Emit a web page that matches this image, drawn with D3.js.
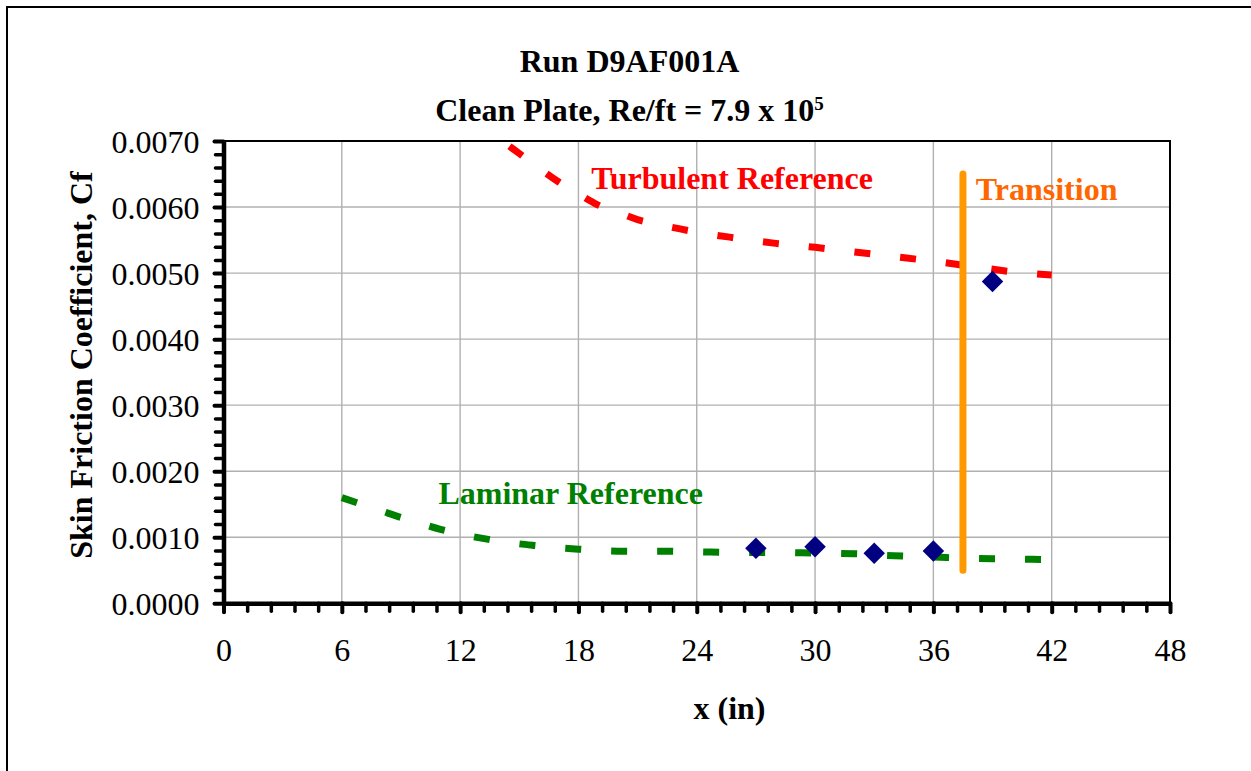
<!DOCTYPE html>
<html lang="en">
<head>
  <meta charset="UTF-8">
  <title>Run D9AF001A - Skin Friction</title>
  <script src="https://d3js.org/d3.v7.min.js"></script>
  <style>
    body { margin: 0; background: #fff; }
    text { font-family: "Liberation Serif", "Times New Roman", serif; }
    .tick text { font-size: 32px; fill: #000; }
    .title, .axis-title, .note { font-size: 32px; font-weight: bold; }
  </style>
</head>
<body>
  <svg id="chart" width="1251" height="771"></svg>

  <script>
    // Laminar reference curve (x in inches, Cf)
    const lamX = [6, 7, 8, 9, 10, 11, 12, 13, 14, 15, 16, 17, 18, 20, 22, 24, 26, 28, 30, 32, 34, 36, 38, 40, 42];
    const lamCf = [0.00160, 0.00150, 0.00140, 0.00130, 0.00121, 0.00112, 0.00105, 0.00099, 0.00094, 0.00090, 0.00087, 0.00084, 0.00082,
                   0.00079, 0.00079, 0.00078, 0.00077, 0.00077, 0.00076, 0.00075, 0.00072, 0.00070, 0.00068, 0.00067, 0.00066];

    // Turbulent reference curve
    const turbX = [14.5, 15, 16, 17, 18, 19, 20, 21, 22, 24, 26, 28, 30, 32, 34, 36, 38, 40, 42];
    const turbCf = [0.00692, 0.00681, 0.00659, 0.00638, 0.00620, 0.00603, 0.00592, 0.00581, 0.00574, 0.00562, 0.00553,
                    0.00545, 0.00539, 0.00532, 0.00525, 0.00518, 0.00510, 0.00502, 0.00497];

    // Measured data
    const runX = [27, 30, 33, 36, 39];
    const runCf = [0.000832, 0.000857, 0.000756, 0.000791, 0.004873];

    // Transition marker
    const transX = [37.5, 37.5];
    const transCf = [0.0005, 0.0065];

    const xTicks = [0, 6, 12, 18, 24, 30, 36, 42, 48];
    const yTicks = [0, 0.001, 0.002, 0.003, 0.004, 0.005, 0.006, 0.007];

    const margin = { top: 141, right: 81, bottom: 167.7, left: 223.5 };
    const width = 1251 - margin.left - margin.right;
    const height = 771 - margin.top - margin.bottom;

    const root = d3.select("#chart");

    // outer chart border (runs off the right and bottom edges)
    root.append("rect")
      .attr("x", 7).attr("y", 7)
      .attr("width", 1300).attr("height", 900)
      .attr("fill", "none").attr("stroke", "#000").attr("stroke-width", 2);

    const svg = root.append("g")
      .attr("transform", "translate(" + margin.left + "," + margin.top + ")");

    const xScale = d3.scaleLinear().domain([0, 48]).range([0, width]);
    const yScale = d3.scaleLinear().domain([0, 0.007]).range([height, 0]);

    svg.append("clipPath").attr("id", "plot-clip")
      .append("rect").attr("width", width).attr("height", height);

    // gridlines
    svg.append("g").selectAll("line")
      .data(xTicks.slice(1, -1))
      .enter().append("line")
      .attr("x1", d => xScale(d)).attr("x2", d => xScale(d))
      .attr("y1", 0).attr("y2", height)
      .attr("stroke", "#b0b0b0").attr("stroke-width", 1.4);

    svg.append("g").selectAll("line")
      .data(yTicks.slice(1, -1))
      .enter().append("line")
      .attr("y1", d => yScale(d)).attr("y2", d => yScale(d))
      .attr("x1", 0).attr("x2", width)
      .attr("stroke", "#b0b0b0").attr("stroke-width", 1.4);

    // top and right frame
    svg.append("path")
      .attr("d", "M0,0H" + width + "V" + height)
      .attr("fill", "none").attr("stroke", "#000").attr("stroke-width", 2);

    const line = d3.line()
      .x(d => xScale(d[0]))
      .y(d => yScale(d[1]))
      .curve(d3.curveMonotoneX);

    const plot = svg.append("g").attr("clip-path", "url(#plot-clip)");

    plot.append("path")
      .datum(d3.zip(lamX, lamCf))
      .attr("d", line)
      .attr("fill", "none")
      .attr("stroke", "#008000")
      .attr("stroke-width", 7)
      .attr("stroke-dasharray", "16,30");

    plot.append("path")
      .datum(d3.zip(turbX, turbCf))
      .attr("d", line)
      .attr("fill", "none")
      .attr("stroke", "#ff0000")
      .attr("stroke-width", 7)
      .attr("stroke-dasharray", "16,30");

    svg.append("path")
      .datum(d3.zip(transX, transCf))
      .attr("d", d3.line().x(d => xScale(d[0])).y(d => yScale(d[1])))
      .attr("stroke", "#ff9900")
      .attr("stroke-width", 7)
      .attr("stroke-linecap", "round");

    // data points as diamonds
    svg.selectAll(".pt")
      .data(d3.zip(runX, runCf))
      .enter().append("path")
      .attr("class", "pt")
      .attr("d", d3.symbol(d3.symbolSquare, 231))
      .attr("transform", d => "translate(" + xScale(d[0]) + "," + yScale(d[1]) + ") rotate(45)")
      .attr("fill", "#000080");

    // x axis: minor then major ticks
    const xMinor = d3.range(41).filter(i => i % 5 !== 0).map(i => i * 1.2);
    const xAxisMinor = svg.append("g")
      .attr("transform", "translate(0," + height + ")")
      .call(d3.axisBottom(xScale).tickValues(xMinor).tickSize(8).tickFormat(""));
    xAxisMinor.select(".domain").remove();
    xAxisMinor.selectAll(".tick line").attr("stroke-width", 3.5).attr("stroke-linecap", "round");

    const xAxis = svg.append("g")
      .attr("transform", "translate(0," + height + ")")
      .call(d3.axisBottom(xScale).tickValues(xTicks).tickSize(9).tickSizeOuter(0).tickPadding(26));
    xAxis.select(".domain").attr("stroke-width", 4.5);
    xAxis.selectAll(".tick line").attr("stroke-width", 4).attr("stroke-linecap", "round");

    // y axis
    const yMinor = d3.range(36).filter(i => i % 5 !== 0).map(i => i * 0.0002);
    const yAxisMinor = svg.append("g")
      .call(d3.axisLeft(yScale).tickValues(yMinor).tickSize(8).tickFormat(""));
    yAxisMinor.select(".domain").remove();
    yAxisMinor.selectAll(".tick line").attr("stroke-width", 3.5).attr("stroke-linecap", "round");

    const yAxis = svg.append("g")
      .call(d3.axisLeft(yScale).tickValues(yTicks).tickSize(9).tickSizeOuter(0).tickPadding(15)
        .tickFormat(d3.format(".4f")));
    yAxis.select(".domain").attr("stroke-width", 4.5);
    yAxis.selectAll(".tick line").attr("stroke-width", 4).attr("stroke-linecap", "round");
    yAxis.selectAll(".tick text").attr("dy", "0.35em");

    // annotations
    svg.append("text").attr("class", "note")
      .attr("x", xScale(18.65)).attr("y", yScale(0.00627))
      .attr("fill", "#ff0000").text("Turbulent Reference");

    svg.append("text").attr("class", "note")
      .attr("x", xScale(38.15)).attr("y", yScale(0.00611))
      .attr("fill", "#ff6600").text("Transition");

    svg.append("text").attr("class", "note")
      .attr("x", xScale(10.9)).attr("y", yScale(0.0015))
      .attr("fill", "#008000").text("Laminar Reference");

    // titles
    root.append("text").attr("class", "title")
      .attr("x", 629.5).attr("y", 72)
      .style("text-anchor", "middle")
      .text("Run D9AF001A");

    const t2 = root.append("text").attr("class", "title")
      .attr("x", 629.5).attr("y", 120.5)
      .style("text-anchor", "middle");
    t2.append("tspan").text("Clean Plate, Re/ft = 7.9 x 10");
    t2.append("tspan").attr("dy", -11).style("font-size", "19px").text("5");

    root.append("text").attr("class", "axis-title")
      .attr("x", 729.5).attr("y", 719)
      .style("text-anchor", "middle")
      .text("x (in)");

    root.append("text").attr("class", "axis-title")
      .attr("transform", "translate(91.5,365) rotate(-90)")
      .style("text-anchor", "middle")
      .text("Skin Friction Coefficient, Cf");
  </script>
</body>
</html>
